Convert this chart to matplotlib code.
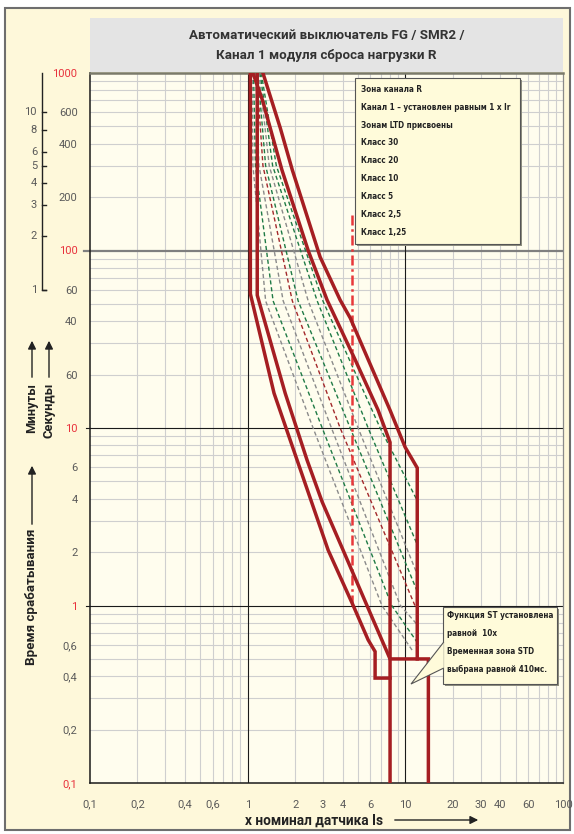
import numpy as np
import matplotlib.pyplot as plt
from matplotlib import transforms, font_manager
from matplotlib.patches import Rectangle, Polygon, FancyArrowPatch
from matplotlib.ticker import NullLocator

plt.rcParams["font.family"] = ["Roboto", "DejaVu Sans"]

# ---- data (x = multiple of Is, t = seconds) ----
x_ticks = [0.1, 0.2, 0.4, 0.6, 1, 2, 3, 4, 6, 10, 20, 30, 40, 60, 100]
x_tick_labels = ["0,1", "0,2", "0,4", "0,6", "1", "2", "3", "4", "6", "10",
                 "20", "30", "40", "60", "100"]
y_ticks = [1000, 600, 400, 200, 100, 60, 40, 20, 10, 6, 4, 2, 1, 0.6, 0.4, 0.2, 0.1]
y_tick_labels = ["1000", "600", "400", "200", "100", "60", "40", "60", "10",
                 "6", "4", "2", "1", "0,6", "0,4", "0,2", "0,1"]
red_ticks = [1000, 100, 10, 1, 0.1]
minute_ticks = [10, 8, 6, 5, 4, 3, 2, 1]

# thick zone curves
a_x = [1.04, 1.04, 1.47, 3.24, 4.67, 5.81, 6.43, 6.43, 8.0]
a_t = [1000, 57, 15.7, 2.05, 1.0, 0.64, 0.55, 0.39, 0.39]
b_x = [1.15, 1.15, 1.73, 2.38, 2.97, 4.03, 6.25, 8.0, 14.0, 14.0]
b_t = [1000, 56, 15.7, 6.6, 3.83, 2.05, 0.83, 0.5, 0.5, 0.1]
c_x = [1.08, 1.24, 1.65, 2.42, 3.19, 4.81, 6.72, 8.0, 8.0]
c_t = [1000, 705, 284, 100, 52.6, 24.2, 12.6, 8.3, 0.1]
d_x = [1.25, 1.61, 1.92, 2.88, 3.86, 4.47, 8.0, 9.97, 11.9, 11.9]
d_t = [1000, 490, 284, 92, 52.6, 41.7, 12.6, 7.8, 5.96, 0.5]

# LTD class curves (dotted)
class_colors = ["#8a8a8a", "#1f7a45", "#8a8a8a", "#a3282b",
                "#1f7a45", "#8a8a8a", "#1f7a45", "#1f7a45"]
class_x = [
    [1.07, 1.08, 1.30, 2.60, 7.1, 11.2],
    [1.09, 1.12, 1.45, 2.97, 8.2, 11.9],
    [1.12, 1.18, 1.68, 3.40, 9.3, 11.9],
    [1.14, 1.25, 1.92, 3.86, 11.5],
    [1.16, 1.30, 2.09, 4.47, 11.9],
    [1.18, 1.37, 2.42, 5.02, 11.9],
    [1.20, 1.44, 2.76, 5.81, 11.9],
    [1.22, 1.52, 3.00, 6.92, 11.9],
]
class_t = [
    [1000, 300, 52, 10, 1, 0.55],
    [1000, 300, 52, 10, 1, 0.62],
    [1000, 300, 52, 10, 1, 0.78],
    [1000, 300, 52, 10, 1.0],
    [1000, 300, 52, 10, 1.2],
    [1000, 300, 52, 10, 1.5],
    [1000, 300, 52, 10, 2.2],
    [1000, 300, 52, 10, 3.9],
]

# ST pickup marker (dash-dot)
st_x = [4.6, 4.6]
st_t = [158, 1.0]

legend_lines = ["Зона канала R", "Канал 1 – установлен равным 1 x Ir",
                "Зонам LTD присвоены", "Класс 30", "Класс 20", "Класс 10",
                "Класс 5", "Класс 2,5", "Класс 1,25"]
note_lines = ["Функция ST установлена", "равной  10x",
              "Временная зона STD", "выбрана равной 410мс."]

# narrow font for the boxes, whatever is installed
fonts = [(f.name, f.stretch) for f in font_manager.fontManager.ttflist]
if any(n == "Liberation Sans Narrow" for n, _ in fonts):
    box_font = dict(family=["Liberation Sans Narrow", "DejaVu Sans"], fontsize=6.6)
elif any(n == "DejaVu Sans" and s == "condensed" for n, s in fonts):
    box_font = dict(family=["DejaVu Sans"], fontstretch="condensed", fontsize=5.9)
else:
    box_font = dict(family=["Roboto", "DejaVu Sans"], fontsize=5.4)

W, H = 574, 834


def fx(px):
    return px / W


def fy(py):
    return 1 - py / H


fig = plt.figure(figsize=(W / 100, H / 100), dpi=100, facecolor="white")

# panel + title band
fig.patches.append(Rectangle((fx(5), fy(830)), fx(570) - fx(5), fy(8) - fy(830),
                             transform=fig.transFigure, facecolor="#FEF8DA",
                             edgecolor="#6e6e6e", linewidth=1.5, zorder=-3))
fig.patches.append(Rectangle((fx(90), fy(72)), fx(563) - fx(90), fy(18) - fy(72),
                             transform=fig.transFigure, facecolor="#E4E4E4",
                             edgecolor="none", zorder=-2))
fig.text(fx(326.5), fy(35), "Автоматический выключатель FG / SMR2 /",
         ha="center", va="center", fontsize=9.6, fontweight="bold", color="#333333")
fig.text(fx(326.5), fy(56), "Канал 1 модуля сброса нагрузки R",
         ha="center", va="center", fontsize=9.6, fontweight="bold", color="#333333")

ax = fig.add_axes([fx(90), fy(783), fx(563) - fx(90), fy(73) - fy(783)])
ax.set_facecolor("#FFFDEE")
ax.set_xscale("log")
ax.set_yscale("log")
ax.set_xlim(0.1, 100)
ax.set_ylim(0.1, 1000)

# grid
decades = np.array([0.1, 1, 10])
mult = np.arange(2, 10)
for v in np.outer(decades, mult).ravel():
    ax.axvline(v, color="#cfcfcf", lw=0.8, zorder=0.5)
for v in np.outer([0.1, 1, 10, 100], mult).ravel():
    ax.axhline(v, color="#cfcfcf", lw=0.8, zorder=0.5)
ax.axhline(100, color="#7f7f7f", lw=1.6, zorder=0.6)
for v in [1, 10]:
    ax.axhline(v, color="#1a1a1a", lw=0.8, zorder=0.6)
    ax.axvline(v, color="#1a1a1a", lw=0.8, zorder=0.6)

for s in ["left", "bottom"]:
    ax.spines[s].set_color("#1a1a1a")
    ax.spines[s].set_linewidth(1.1)
ax.spines["top"].set_color("#7a7a6a")
ax.spines["top"].set_linewidth(1.8)
ax.spines["right"].set_color("#8a8a8a")
ax.spines["right"].set_linewidth(0.9)

ax.set_xticks(x_ticks, x_tick_labels)
ax.set_yticks(y_ticks, y_tick_labels)
ax.xaxis.set_minor_locator(NullLocator())
ax.yaxis.set_minor_locator(NullLocator())
ax.tick_params(axis="x", length=0, pad=12, labelsize=8, labelcolor="#5a5a5a")
ax.tick_params(axis="y", length=0, pad=9, labelsize=8, labelcolor="#5a5a5a")
for lab, v in zip(ax.get_yticklabels(), y_ticks):
    if v in red_ticks:
        lab.set_color("#e8323c")

tr_ax = transforms.blended_transform_factory(ax.transAxes, ax.transData)
ax.plot([-0.012, 0], [100, 100], color="#7f7f7f", lw=1.6, transform=tr_ax, clip_on=False)
for v in [10, 1]:
    ax.plot([-0.008, 0], [v, v], color="#1a1a1a", lw=0.8, transform=tr_ax, clip_on=False)

# minutes scale
tr_fig = transforms.blended_transform_factory(fig.transFigure, ax.transData)
ax.plot([fx(42), fx(42), fx(46)], [1000, 60, 60], color="#222222", lw=1,
        transform=tr_fig, clip_on=False)
for m in minute_ticks:
    ax.plot([fx(42), fx(46)], [m * 60, m * 60], color="#222222", lw=1,
            transform=tr_fig, clip_on=False)
    ax.text(fx(37), m * 60, str(m), transform=tr_fig, ha="right", va="center",
            fontsize=8, color="#5a5a5a")

# curves
for xs, ts, col in zip(class_x, class_t, class_colors):
    ax.plot(xs, ts, color=col, lw=1.0, dashes=(3, 2), zorder=2)
ax.plot(st_x, st_t, color="#e8373a", lw=1.8, dashes=(4, 1.5, 1, 1.5), zorder=3)
for xs, ts in [(a_x, a_t), (b_x, b_t), (c_x, c_t), (d_x, d_t)]:
    ax.plot(xs, ts, color="#a51e22", lw=2.5, solid_joinstyle="miter", zorder=4)

# legend box
sx, sy = 2 / 473, 2 / 710
lx0, lx1, ly0, ly1 = 0.560, 0.909, 0.759, 0.993
ax.add_patch(Rectangle((lx0 + sx, ly0 - sy), lx1 - lx0, ly1 - ly0, transform=ax.transAxes,
                       facecolor="#8f8f80", edgecolor="none", zorder=5))
ax.add_patch(Rectangle((lx0, ly0), lx1 - lx0, ly1 - ly0, transform=ax.transAxes,
                       facecolor="#FFFBDA", edgecolor="#555555", lw=0.8, zorder=6))
for i, txt in enumerate(legend_lines):
    py = 89.3 + i * 17.85
    ax.text((361 - 90) / 473, (783 - py) / 710, txt, transform=ax.transAxes,
            fontweight="bold", color="#222222", va="center", ha="left", zorder=7,
            **box_font)

# ST note callout
nx0, nx1, ny0, ny1 = 0.746, 0.987, 0.139, 0.248
ax.add_patch(Rectangle((nx0 + sx, ny0 - sy), nx1 - nx0, ny1 - ny0, transform=ax.transAxes,
                       facecolor="#8f8f80", edgecolor="none", zorder=5))
ax.add_patch(Rectangle((nx0, ny0), nx1 - nx0, ny1 - ny0, transform=ax.transAxes,
                       facecolor="#FFFBDA", edgecolor="#555555", lw=0.8, zorder=6))
wedge = [(nx0 + 0.002, (783 - 642) / 710), ((411 - 90) / 473, (783 - 684) / 710),
         (nx0 + 0.002, (783 - 668) / 710)]
ax.add_patch(Polygon(wedge, closed=False, transform=ax.transAxes, facecolor="#FFFBDA",
                     edgecolor="#555555", lw=0.8, zorder=7))
for i, txt in enumerate(note_lines):
    py = 615.7 + i * 17.9
    ax.text((447 - 90) / 473, (783 - py) / 710, txt, transform=ax.transAxes,
            fontweight="bold", color="#222222", va="center", ha="left", zorder=8,
            **box_font)

# axis titles with arrows
fig.text(fx(314), fy(821), "x номинал датчика Is", ha="center", va="center",
         fontsize=9.8, fontweight="bold", color="#222222")
fig.text(fx(32), fy(597), "Время срабатывания", rotation=90, ha="center",
         va="center", fontsize=9.6, fontweight="bold", color="#222222")
fig.text(fx(32), fy(408), "Минуты", rotation=90, ha="center", va="center",
         fontsize=9.3, fontweight="bold", color="#222222")
fig.text(fx(49), fy(410), "Секунды", rotation=90, ha="center", va="center",
         fontsize=9.3, fontweight="bold", color="#222222")
for p0, p1 in [((392, 820), (481, 820)), ((32, 527), (32, 463)),
               ((32, 380), (32, 338)), ((49, 380), (49, 338))]:
    fig.add_artist(FancyArrowPatch((fx(p0[0]), fy(p0[1])), (fx(p1[0]), fy(p1[1])),
                                   transform=fig.transFigure, arrowstyle="-|>",
                                   mutation_scale=12, color="#222222", lw=1))

fig.savefig("out.png", dpi=100, facecolor=fig.get_facecolor())
